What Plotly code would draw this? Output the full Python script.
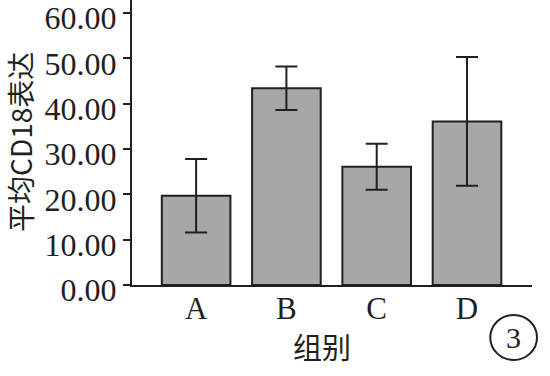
import plotly.graph_objects as go

groups = ["A", "B", "C", "D"]
means = [19.7, 43.4, 26.1, 36.1]
errs = [8.1, 4.8, 5.1, 14.2]
y_ticks = [0, 10, 20, 30, 40, 50, 60]
y_tick_labels = ["0.00", "10.00", "20.00", "30.00", "40.00", "50.00", "60.00"]

serif = "Liberation Serif, Times New Roman, serif"
cjk = "Noto Sans CJK SC"
dark = "#231f20"

fig = go.Figure(go.Bar(
    x=groups, y=means,
    marker=dict(color="#a7a7a9", line=dict(color=dark, width=2)),
    error_y=dict(type="data", array=errs, visible=True, color=dark, thickness=2, width=11),
    width=0.76,
))

fig.update_layout(
    width=550, height=376,
    margin=dict(l=132, r=18, t=0, b=91),
    paper_bgcolor="white", plot_bgcolor="white",
    showlegend=False,
    xaxis=dict(
        range=[-0.71, 3.72], showline=True, linecolor=dark, linewidth=2,
        ticks="", tickfont=dict(family=serif, size=31, color=dark),
        ticklabelstandoff=-5,
        automargin=False, showgrid=False, zeroline=False,
    ),
    yaxis=dict(
        range=[0, 62.9], showline=True, linecolor=dark, linewidth=2,
        tickvals=y_ticks, ticktext=y_tick_labels,
        ticks="outside", ticklen=7, tickwidth=2, tickcolor=dark,
        tickfont=dict(family=serif, size=32, color=dark),
        ticklabeloverflow="allow", ticklabelshift=5,
        automargin=False, showgrid=False, zeroline=False,
    ),
    shapes=[dict(type="circle", xref="paper", yref="paper",
                 x0=0.8957, x1=1.0125, y0=-0.263, y1=-0.105,
                 line=dict(color=dark, width=2))],
    annotations=[
        dict(text="3", xref="paper", yref="paper", x=0.953, y=-0.184,
             showarrow=False, font=dict(family=serif, size=30, color=dark),
             xanchor="center", yanchor="middle"),
        dict(text="组别", xref="paper", yref="paper", x=0.4754, y=-0.214,
             showarrow=False, font=dict(family=cjk, size=29, color=dark),
             xanchor="center", yanchor="middle"),
        dict(text="平均CD18表达", xref="paper", yref="paper", x=-0.2802, y=0.5018,
             showarrow=False, textangle=-90, font=dict(family=cjk, size=28, color=dark),
             xanchor="center", yanchor="middle"),
    ],
)

fig.write_html("out.html", post_script="document.body.style.margin='0';",
               config={"displayModeBar": False})
